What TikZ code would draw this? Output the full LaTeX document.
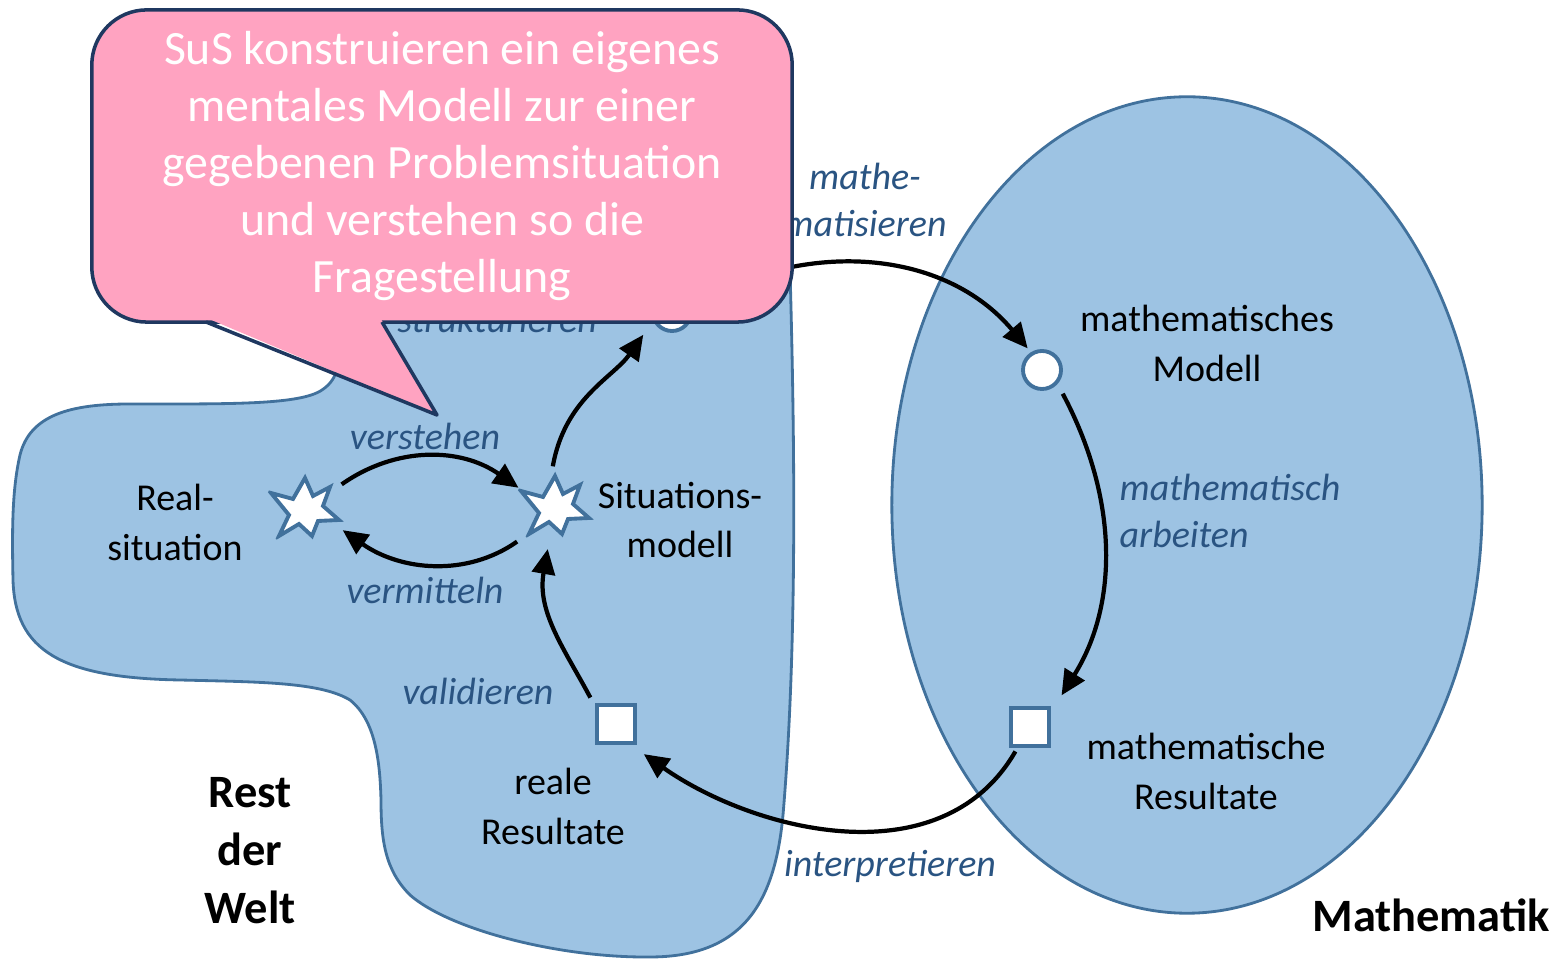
\documentclass[tikz,border=0pt]{standalone}
\usepackage{fontspec}
\setmainfont{Carlito}
\usetikzlibrary{arrows.meta}
\definecolor{weltblau}{RGB}{157,195,227}
\definecolor{randblau}{RGB}{65,113,156}
\definecolor{schriftblau}{RGB}{42,84,130}
\definecolor{notizrosa}{RGB}{255,163,193}
\definecolor{notizrand}{RGB}{31,56,96}
\tikzset{
	gebiet/.style={fill=weltblau, draw=randblau, line width=0.8pt},
	pfeil/.style={-{Triangle[length=0.25cm,width=0.23cm]}, line width=1.2pt, black},
	tun/.style={font=\fontsize{10.8}{13.2}\selectfont\itshape, text=schriftblau, align=center, inner sep=0pt},
	ding/.style={font=\fontsize{10.8}{14.2}\selectfont, align=center, inner sep=0pt},
	welt/.style={font=\fontsize{13.2}{16.5}\selectfont\bfseries, align=center, inner sep=0pt},
	kreis/.style={circle, draw=randblau, line width=1.1pt, fill=white, minimum size=0.38cm, inner sep=0pt},
	quadrat/.style={rectangle, draw=randblau, line width=1.1pt, fill=white, minimum size=0.38cm, inner sep=0pt},
	zacke/.style={circle, inner sep=0pt, minimum size=0.82cm, path picture={
		\draw[randblau, line width=1.1pt, fill=white, shift={(path picture bounding box.center)}]
			(0,-32) -- (8,-14) -- (25,-23) -- (18,-4) -- (34,10) -- (13,11) -- (7,26) -- (-6,14)
			-- (-26,26) -- (-16,5) -- (-34,-17) -- (-12,-11) -- cycle;}},
	notiz/.style={rectangle, rounded corners=0.55cm, fill=notizrosa, draw=notizrand, line width=1pt,
		minimum width=7cm, minimum height=3.12cm, text=white, align=center,
		font=\fontsize{13.6}{16.2}\selectfont},
}
\begin{document}
\begin{tikzpicture}[x=0.01cm, y=-0.01cm]
	\fill[white] (0,0) rectangle (1560,962);
	\useasboundingbox (0,0) rectangle (1560,962);
	% rest der welt
	\draw[gebiet] (340,200) -- (745,200) .. controls (775,200) and (790,230) .. (790,270)
		.. controls (795,450) and (797,650) .. (783,815)
		.. controls (775,900) and (745,957) .. (650,957)
		.. controls (560,958) and (450,930) .. (410,895)
		.. controls (385,870) and (381,840) .. (381,800)
		.. controls (380,760) and (375,720) .. (350,700)
		.. controls (320,682) and (260,682) .. (180,680)
		.. controls (60,678) and (15,650) .. (13,580)
		.. controls (12,530) and (12,490) .. (20,455)
		.. controls (30,415) and (70,404) .. (130,404)
		.. controls (230,404) and (300,405) .. (322,390)
		.. controls (340,378) and (340,360) .. (340,330)
		-- cycle;
	% mathematik
	\draw[gebiet] (1187,505) ellipse [x radius=2.95cm, y radius=4.08cm];
	% stationen
	\node[zacke] (real) at (305,510) {};
	\node[zacke] (sit) at (555,508) {};
	\node[kreis] (struk) at (672,312) {};
	\node[kreis] (mod) at (1042,370) {};
	\node[quadrat] (res) at (1030,727) {};
	\node[quadrat] (reale) at (616,724) {};
	% pfeile
	\draw[pfeil, shorten <=0.03cm] (real.35) to[out=35,in=145] (sit.151);
	\draw[pfeil, shorten <=0.09cm, shorten >=0.01cm] (sit.223) to[out=215,in=-35] (real.-28);
	\draw[pfeil, shorten >=0.17cm] (sit.93) to[out=80,in=235] (struk.205);
	\draw[pfeil, shorten >=0.05cm] (struk.20) to[out=30,in=130] (mod.122);
	\draw[pfeil, shorten <=0.11cm, shorten >=0.2cm] (mod.-42) to[out=-62,in=58] (res.35);
	\draw[pfeil, shorten <=0.04cm, shorten >=0.16cm] (res.239) to[out=240,in=-35] (reale.-55);
	\draw[pfeil, shorten <=0.1cm] (reale.140) to[out=118,in=-100] (sit.-100);
	% beschriftung
	\node[ding] (realtxt) at (175,522) {Real-\\situation};
	\node[ding] (sittxt) at (680,520) {Situations-\\modell};
	\node[ding] (modtxt) at (1207,343) {mathematisches\\Modell};
	\node[ding] (restxt) at (1206,771) {mathematische\\Resultate};
	\node[ding] (realetxt) at (553,806) {reale\\Resultate};
	\node[welt] (welttxt) at (250,851) {Rest\\der\\Welt};
	\node[welt] (mathtxt) at (1431,915) {Mathematik};
	\node[tun] (verst) at (425,436) {verstehen};
	\node[tun] (verm) at (425,590) {vermitteln};
	\node[tun] (valid) at (478,691) {validieren};
	\node[tun] (struktxt) at (497,319) {strukturieren};
	\node[tun] (mathe) at (865,200) {mathe-\\matisieren};
	\node[tun, anchor=west, align=left] (arbeit) at (1119,511) {mathematisch\\arbeiten};
	\node[tun] (interp) at (890,866) {interpretieren};
	% sprechblase
	\node[notiz] (notiz) at (442,166) {SuS konstruieren ein eigenes\\mentales Modell zur einer\\gegebenen Problemsituation\\und verstehen so die\\Fragestellung};
	\fill[notizrosa] (209,319) -- (437,415) -- (381,319) -- cycle;
	\draw[notizrand, line width=1pt, line join=round] (206,322) -- (437,415) -- (382,322);
\end{tikzpicture}
\end{document}
